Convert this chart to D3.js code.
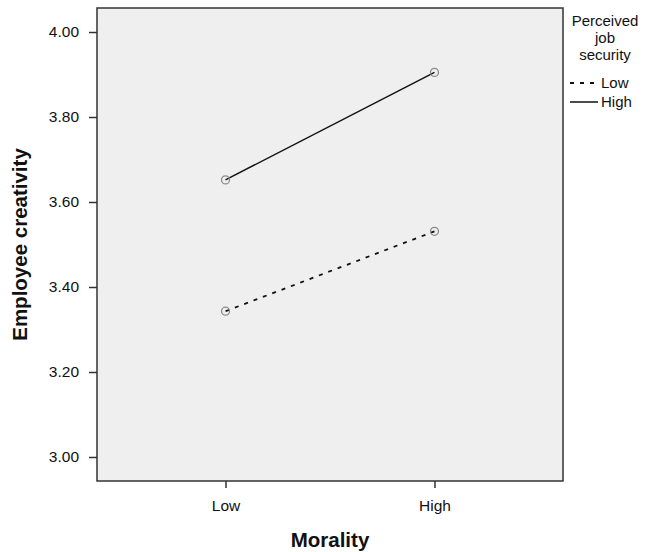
<!DOCTYPE html>
<html>
<head>
<meta charset="utf-8">
<script src="https://cdn.jsdelivr.net/npm/d3@7"></script>
<style>
  body { margin: 0; background: #fff; }
  text { font-family: "Liberation Sans", Arial, sans-serif; fill: #111; }
</style>
</head>
<body>
<div id="wrapper"></div>
<script>
// data
const morality = ["Low", "High"];
const securityLevels = ["Low", "High"];
const creativityLow = [3.343, 3.531];   // perceived job security = Low
const creativityHigh = [3.652, 3.905];  // perceived job security = High
const yTicks = [3.00, 3.20, 3.40, 3.60, 3.80, 4.00];

const series = [
  { name: securityLevels[0], values: creativityLow, dash: "4,6" },
  { name: securityLevels[1], values: creativityHigh, dash: null }
];

const dimension = {
  width: 650,
  height: 552,
  margin: { top: 8, right: 87, bottom: 71, left: 97 }
};
dimension.boundedWidth = dimension.width - dimension.margin.left - dimension.margin.right;
dimension.boundedHeight = dimension.height - dimension.margin.top - dimension.margin.bottom;

const wrapper = d3.select("#wrapper")
  .append("svg")
  .attr("width", dimension.width)
  .attr("height", dimension.height);

const bounds = wrapper.append("g")
  .attr("transform", `translate(${dimension.margin.left},${dimension.margin.top})`);

const xScale = d3.scalePoint()
  .domain(morality)
  .range([0, dimension.boundedWidth])
  .padding(0.615);

const yScale = d3.scaleLinear()
  .domain([2.9435, 4.0565])
  .range([dimension.boundedHeight, 0]);

// plot background
bounds.append("rect")
  .attr("width", dimension.boundedWidth)
  .attr("height", dimension.boundedHeight)
  .attr("fill", "#efefef")
  .attr("stroke", "#333")
  .attr("stroke-width", 1.5);

const yAxis = bounds.append("g")
  .call(d3.axisLeft(yScale).tickValues(yTicks).tickFormat(d3.format(".2f")).tickSize(8).tickPadding(10));
const xAxis = bounds.append("g")
  .attr("transform", `translate(0,${dimension.boundedHeight})`)
  .call(d3.axisBottom(xScale).tickSize(7).tickPadding(12));

[yAxis, xAxis].forEach(ax => {
  ax.select(".domain").remove();
  ax.selectAll(".tick line").attr("stroke", "#333").attr("stroke-width", 1.5);
  ax.selectAll(".tick text")
    .style("font-family", "Liberation Sans, Arial, sans-serif")
    .style("font-size", "15.5px")
    .attr("fill", "#111");
});

const line = d3.line()
  .x((d, i) => xScale(morality[i]))
  .y(d => yScale(d));

bounds.selectAll("path.series")
  .data(series)
  .enter()
  .append("path")
  .attr("class", "series")
  .attr("d", d => line(d.values))
  .attr("fill", "none")
  .attr("stroke", "#111")
  .attr("stroke-width", d => d.dash ? 1.8 : 1.5)
  .attr("stroke-dasharray", d => d.dash);

series.forEach(s => {
  bounds.selectAll(null)
    .data(s.values)
    .enter()
    .append("circle")
    .attr("cx", (d, i) => xScale(morality[i]))
    .attr("cy", d => yScale(d))
    .attr("r", 4)
    .attr("fill", "none")
    .attr("stroke", "#8a8a8a")
    .attr("stroke-width", 1.3);
});

// axis titles
wrapper.append("text")
  .attr("transform", `translate(27,${dimension.margin.top + dimension.boundedHeight / 2}) rotate(-90)`)
  .attr("text-anchor", "middle")
  .style("font-size", "20.5px")
  .style("font-weight", "bold")
  .text("Employee creativity");

wrapper.append("text")
  .attr("x", dimension.margin.left + dimension.boundedWidth / 2)
  .attr("y", 547)
  .attr("text-anchor", "middle")
  .style("font-size", "20.5px")
  .style("font-weight", "bold")
  .text("Morality");

// legend
const legend = wrapper.append("g").attr("transform", "translate(570,0)");
legend.selectAll("text.title")
  .data(["Perceived", "job", "security"])
  .enter()
  .append("text")
  .attr("class", "title")
  .attr("x", 35)
  .attr("y", (d, i) => 26 + i * 17)
  .attr("text-anchor", "middle")
  .style("font-size", "15px")
  .text(d => d);

const legendItem = legend.selectAll("g.item")
  .data(series)
  .enter()
  .append("g")
  .attr("class", "item")
  .attr("transform", (d, i) => `translate(0,${83 + i * 19})`);
legendItem.append("line")
  .attr("x1", 0)
  .attr("x2", 28)
  .attr("stroke", "#111")
  .attr("stroke-width", d => d.dash ? 1.8 : 1.5)
  .attr("stroke-dasharray", d => d.dash);
legendItem.append("text")
  .attr("x", 31)
  .attr("y", 5)
  .style("font-size", "15px")
  .text(d => d.name);
</script>
</body>
</html>
